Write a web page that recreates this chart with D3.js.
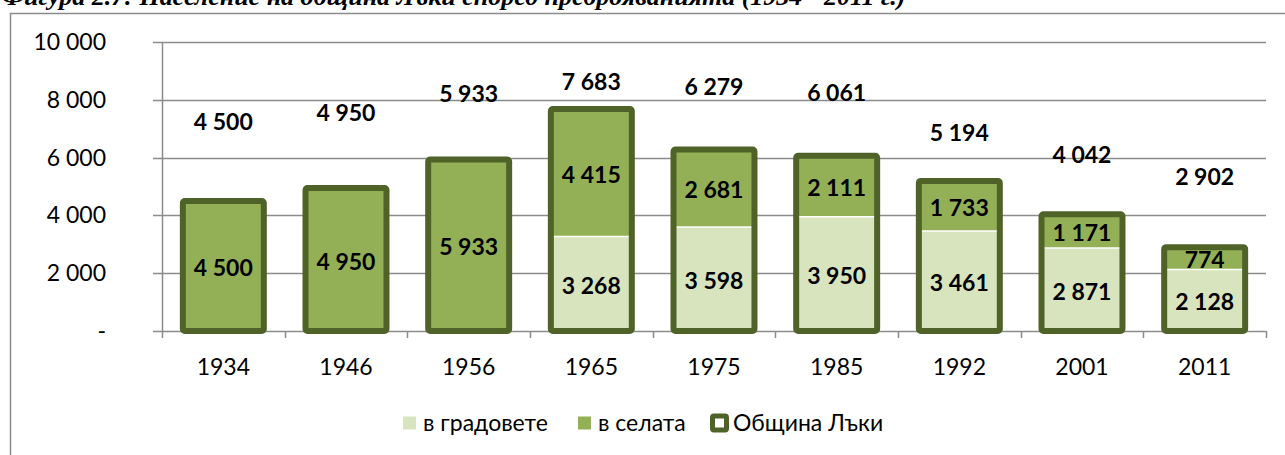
<!DOCTYPE html>
<html>
<head>
<meta charset="utf-8">
<script src="https://cdn.jsdelivr.net/npm/d3@7"></script>
<style>
  body { margin: 0; background: #fff; }
  svg { display: block; }
  text { font-family: Lato, "Open Sans", sans-serif; fill: #000; }
</style>
</head>
<body>
<div id="chart"></div>
<script>
// data
var years = ["1934", "1946", "1956", "1965", "1975", "1985", "1992", "2001", "2011"];
var urban = [0, 0, 0, 3268, 3598, 3950, 3461, 2871, 2128];       // в градовете
var villages = [4500, 4950, 5933, 4415, 2681, 2111, 1733, 1171, 774]; // в селата
var totals = [4500, 4950, 5933, 7683, 6279, 6061, 5194, 4042, 2902];  // Община Лъки
var yTicks = [0, 2000, 4000, 6000, 8000, 10000];
var seriesNames = ["в градовете", "в селата", "Община Лъки"];
// where the total labels sit (hand placed in the original), in y-axis units
var totalLabelAt = [7240, 7530, 8200, 8630, 8430, 8220, 6840, 6090, 5340];

var W = 1285, H = 455;
var cUrban = "#d7e4bd", cVillage = "#94b056", cTotal = "#4f6228", cGrid = "#8c8c8c";
var fs = "23px";

var fmt = d3.formatLocale({decimal: ",", thousands: " ", grouping: [3], currency: ["", ""]}).format(",");
function lab(v) { return v === 0 ? "-" : fmt(v); }

var svg = d3.select("#chart").append("svg")
    .attr("width", W)
    .attr("height", H);

// caption above the chart (cut off at the top in the original)
svg.append("text")
    .attr("x", 2)
    .attr("y", 5)
    .style("font-family", "'Liberation Serif', 'Times New Roman', serif")
    .style("font-weight", "bold")
    .style("font-style", "italic")
    .style("font-size", "26px")
    .text("Фигура 2.7: Население на община Лъки според преброяванията (1934 - 2011 г.)");

// chart frame
svg.append("rect")
    .attr("x", 10.5).attr("y", 13.5)
    .attr("width", W + 20).attr("height", H + 20)
    .attr("fill", "#fff")
    .attr("stroke", cGrid)
    .attr("stroke-width", 1.5);

var x = d3.scaleBand()
    .domain(years)
    .range([162, 1266]);

var y = d3.scaleLinear()
    .domain([0, 10000])
    .range([331, 42]);

var barW = x.bandwidth() * 0.66;

// gridlines
svg.append("g")
  .selectAll("line")
  .data(yTicks)
  .enter().append("line")
    .attr("x1", 153).attr("x2", 1266)
    .attr("y1", function(d) { return Math.round(y(d)) + 0.5; })
    .attr("y2", function(d) { return Math.round(y(d)) + 0.5; })
    .attr("stroke", cGrid)
    .attr("stroke-width", 1.5);

// y axis line
svg.append("line")
    .attr("x1", 162.5).attr("x2", 162.5)
    .attr("y1", y(10000)).attr("y2", y(0))
    .attr("stroke", cGrid).attr("stroke-width", 1.5);

// y labels
svg.append("g")
  .selectAll("text")
  .data(yTicks)
  .enter().append("text")
    .attr("x", 106)
    .attr("y", function(d) { return y(d); })
    .attr("dy", "0.35em")
    .attr("text-anchor", "end")
    .style("font-size", fs)
    .text(lab);

// x ticks at category boundaries
var bounds = years.map(function(d) { return x(d); }).concat([x.range()[1]]);
svg.append("g")
  .selectAll("line")
  .data(bounds)
  .enter().append("line")
    .attr("x1", function(d) { return Math.round(d) + 0.5; })
    .attr("x2", function(d) { return Math.round(d) + 0.5; })
    .attr("y1", y(0)).attr("y2", y(0) + 7)
    .attr("stroke", cGrid).attr("stroke-width", 1.5);

// x labels
svg.append("g")
  .selectAll("text")
  .data(years)
  .enter().append("text")
    .attr("x", function(d) { return x(d) + x.bandwidth() / 2; })
    .attr("y", 367)
    .attr("dy", "0.35em")
    .attr("text-anchor", "middle")
    .style("font-size", fs)
    .text(function(d) { return d; });

// bars
var bars = svg.append("g")
  .selectAll("g")
  .data(years)
  .enter().append("g");

function bx(d) { return x(d) + (x.bandwidth() - barW) / 2; }

bars.append("rect")
    .attr("x", bx)
    .attr("y", function(d, i) { return y(urban[i]); })
    .attr("width", barW)
    .attr("height", function(d, i) { return y(0) - y(urban[i]); })
    .attr("fill", cUrban);

bars.append("rect")
    .attr("x", bx)
    .attr("y", function(d, i) { return y(urban[i] + villages[i]); })
    .attr("width", barW)
    .attr("height", function(d, i) { return y(urban[i]) - y(urban[i] + villages[i]); })
    .attr("fill", cVillage);

// white seam between the two segments
bars.filter(function(d, i) { return urban[i] > 0; })
  .append("line")
    .attr("x1", bx)
    .attr("x2", function(d) { return bx(d) + barW; })
    .attr("y1", function(d) { return y(urban[years.indexOf(d)]); })
    .attr("y2", function(d) { return y(urban[years.indexOf(d)]); })
    .attr("stroke", "#fff")
    .attr("stroke-width", 1.5);

// total outline
bars.append("rect")
    .attr("x", bx)
    .attr("y", function(d, i) { return y(totals[i]); })
    .attr("width", barW)
    .attr("height", function(d, i) { return y(0) - y(totals[i]); })
    .attr("rx", 2)
    .attr("fill", "none")
    .attr("stroke", cTotal)
    .attr("stroke-width", 6);

// segment labels
bars.filter(function(d, i) { return urban[i] > 0; })
  .append("text")
    .attr("x", function(d) { return x(d) + x.bandwidth() / 2; })
    .attr("y", function(d) { var i = years.indexOf(d); return y(urban[i] / 2) + 2; })
    .attr("dy", "0.35em")
    .attr("text-anchor", "middle")
    .style("font-size", fs)
    .style("font-weight", "bold")
    .text(function(d) { return fmt(urban[years.indexOf(d)]); });

bars.append("text")
    .attr("x", function(d) { return x(d) + x.bandwidth() / 2; })
    .attr("y", function(d, i) { return y(urban[i] + villages[i] / 2) + 2; })
    .attr("dy", "0.35em")
    .attr("text-anchor", "middle")
    .style("font-size", fs)
    .style("font-weight", "bold")
    .text(function(d, i) { return fmt(villages[i]); });

// total labels
bars.append("text")
    .attr("x", function(d) { return x(d) + x.bandwidth() / 2; })
    .attr("y", function(d, i) { return y(totalLabelAt[i]); })
    .attr("dy", "0.35em")
    .attr("text-anchor", "middle")
    .style("font-size", fs)
    .style("font-weight", "bold")
    .text(function(d, i) { return fmt(totals[i]); });

// legend
var legend = svg.append("g").attr("transform", "translate(0,423)");
var legX = [403, 578, 710];

legend.append("rect").attr("x", legX[0]).attr("y", -6.5).attr("width", 13).attr("height", 13).attr("fill", cUrban);
legend.append("rect").attr("x", legX[1]).attr("y", -6.5).attr("width", 13).attr("height", 13).attr("fill", cVillage);
legend.append("rect").attr("x", legX[2] + 2.5).attr("y", -7).attr("width", 14).attr("height", 14)
    .attr("rx", 1.5).attr("fill", "#fff").attr("stroke", cTotal).attr("stroke-width", 5);

legend.selectAll("text.leg")
  .data(seriesNames)
  .enter().append("text")
    .attr("class", "leg")
    .attr("x", function(d, i) { return legX[i] + (i === 2 ? 23 : 20); })
    .attr("y", 0)
    .attr("dy", "0.35em")
    .style("font-size", fs)
    .text(function(d) { return d; });
</script>
</body>
</html>
